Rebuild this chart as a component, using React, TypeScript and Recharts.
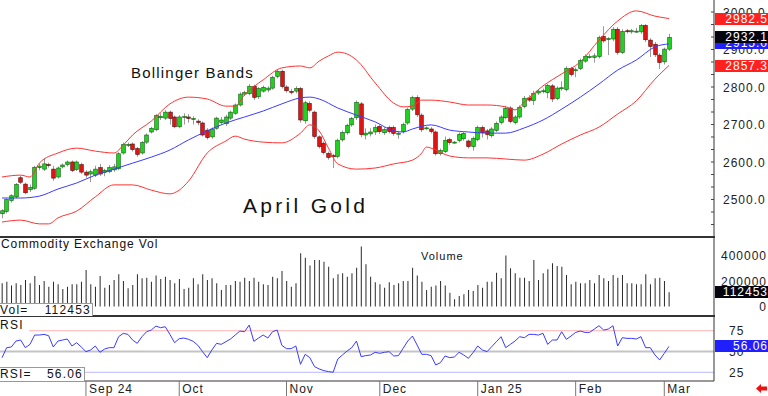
import React from 'react';
import { ComposedChart, Bar, Line, XAxis, YAxis, ReferenceLine } from 'recharts';

const FONT = "'Liberation Sans', Arial, sans-serif";

// daily OHLC, April gold (Aug 6 2024 .. Mar 4 2025)
const OPENS = [
  2462, 2468, 2497, 2507, 2558, 2541, 2526, 2530, 2585, 2581,
  2593, 2581, 2560, 2587, 2593, 2600, 2580, 2593, 2573, 2568,
  2565, 2585, 2572, 2574, 2579, 2582, 2624, 2644, 2648, 2636,
  2624, 2653, 2680, 2686, 2718, 2717, 2733, 2720, 2694, 2719,
  2720, 2714, 2709, 2704, 2685, 2667, 2690, 2705, 2702, 2717,
  2730, 2752, 2781, 2782, 2802, 2774, 2789, 2792, 2797, 2828,
  2842, 2800, 2788, 2789, 2796, 2710, 2756, 2733, 2667, 2650,
  2623, 2617, 2615, 2659, 2678, 2699, 2718, 2755, 2672, 2675,
  2680, 2695, 2678, 2692, 2692, 2674, 2681, 2704, 2741, 2772,
  2725, 2690, 2688, 2680, 2622, 2628, 2660, 2652, 2657, 2662,
  2656, 2641, 2660, 2692, 2683, 2670, 2684, 2705, 2718, 2744,
  2705, 2720, 2748, 2771, 2764, 2784, 2788, 2785, 2803, 2769,
  2796, 2793, 2850, 2844, 2849, 2869, 2880, 2879, 2881, 2935,
  2928, 2928, 2954, 2892, 2950, 2947, 2948, 2947, 2964, 2925,
  2914, 2885, 2867, 2901,
];
const HIGHS = [
  2474, 2503, 2514, 2544, 2563, 2545, 2540, 2590, 2596, 2610,
  2598, 2590, 2588, 2596, 2604, 2604, 2604, 2598, 2578, 2580,
  2590, 2595, 2582, 2592, 2595, 2626, 2652, 2652, 2652, 2640,
  2656, 2676, 2694, 2728, 2730, 2738, 2737, 2724, 2725, 2730,
  2728, 2722, 2714, 2708, 2690, 2692, 2721, 2720, 2726, 2737,
  2756, 2786, 2790, 2808, 2806, 2800, 2804, 2802, 2830, 2847,
  2846, 2805, 2795, 2802, 2800, 2763, 2762, 2737, 2671, 2655,
  2628, 2622, 2662, 2684, 2702, 2720, 2764, 2760, 2690, 2690,
  2700, 2700, 2693, 2697, 2697, 2683, 2705, 2745, 2777, 2778,
  2730, 2695, 2693, 2684, 2636, 2668, 2665, 2656, 2679, 2680,
  2660, 2668, 2697, 2697, 2688, 2693, 2708, 2725, 2750, 2749,
  2725, 2751, 2776, 2778, 2790, 2794, 2796, 2809, 2808, 2802,
  2815, 2855, 2854, 2852, 2876, 2887, 2888, 2890, 2937, 2962,
  2933, 2960, 2960, 2954, 2955, 2955, 2958, 2968, 2968, 2930,
  2920, 2890, 2905, 2942,
];
const LOWS = [
  2450, 2463, 2492, 2503, 2541, 2514, 2520, 2526, 2578, 2576,
  2585, 2550, 2556, 2583, 2588, 2573, 2576, 2568, 2558, 2546,
  2560, 2563, 2562, 2570, 2574, 2578, 2620, 2640, 2628, 2614,
  2620, 2648, 2676, 2682, 2712, 2712, 2700, 2690, 2690, 2700,
  2705, 2700, 2698, 2668, 2660, 2662, 2686, 2700, 2696, 2712,
  2726, 2748, 2776, 2778, 2765, 2768, 2785, 2786, 2793, 2823,
  2796, 2785, 2780, 2783, 2705, 2702, 2732, 2662, 2636, 2620,
  2606, 2584, 2610, 2654, 2673, 2694, 2712, 2666, 2660, 2668,
  2672, 2675, 2672, 2676, 2670, 2662, 2676, 2699, 2736, 2720,
  2680, 2686, 2676, 2617, 2617, 2624, 2646, 2649, 2652, 2657,
  2636, 2630, 2655, 2665, 2660, 2665, 2680, 2700, 2714, 2703,
  2700, 2715, 2743, 2760, 2752, 2779, 2783, 2770, 2760, 2765,
  2790, 2788, 2828, 2826, 2845, 2865, 2876, 2865, 2876, 2918,
  2885, 2922, 2886, 2888, 2943, 2942, 2944, 2942, 2920, 2880,
  2880, 2848, 2860, 2896,
];
const CLOSES = [
  2470, 2500, 2510, 2540, 2546, 2518, 2532, 2586, 2589, 2595,
  2591, 2557, 2584, 2592, 2600, 2577, 2600, 2573, 2565, 2574,
  2581, 2568, 2578, 2585, 2587, 2622, 2647, 2647, 2633, 2620,
  2652, 2672, 2690, 2724, 2722, 2733, 2716, 2694, 2720, 2721,
  2716, 2716, 2705, 2672, 2665, 2688, 2717, 2712, 2720, 2733,
  2752, 2781, 2785, 2802, 2772, 2796, 2799, 2797, 2826, 2842,
  2801, 2790, 2786, 2796, 2712, 2758, 2738, 2668, 2641, 2625,
  2612, 2614, 2658, 2679, 2698, 2716, 2759, 2673, 2677, 2680,
  2692, 2681, 2687, 2681, 2676, 2677, 2700, 2740, 2772, 2726,
  2686, 2691, 2681, 2622, 2631, 2658, 2652, 2653, 2674, 2676,
  2641, 2663, 2692, 2678, 2673, 2688, 2703, 2720, 2743, 2708,
  2720, 2746, 2770, 2765, 2783, 2789, 2790, 2804, 2768, 2797,
  2798, 2850, 2833, 2846, 2871, 2882, 2881, 2883, 2932, 2923,
  2929, 2954, 2892, 2948, 2948, 2950, 2949, 2964, 2926, 2908,
  2886, 2865, 2901, 2932.1,
];

// volume in thousands of contracts
const VOLUMES = [
  183, 196, 165, 183, 170, 209, 183, 241, 170, 202,
  157, 196, 175, 138, 157, 175, 175, 196, 289, 175,
  157, 241, 149, 170, 209, 254, 202, 144, 170, 254,
  223, 228, 196, 244, 217, 236, 209, 183, 217, 138,
  149, 223, 175, 254, 209, 223, 183, 130, 170, 170,
  202, 196, 228, 202, 228, 196, 175, 170, 236, 223,
  281, 202, 157, 183, 420, 386, 323, 368, 368, 354,
  315, 223, 254, 262, 236, 262, 307, 473, 333, 236,
  191, 175, 149, 191, 170, 183, 202, 202, 307, 244,
  196, 130, 157, 165, 202, 165, 109, 57, 83, 96,
  130, 123, 170, 149, 196, 196, 267, 223, 402, 302,
  262, 228, 228, 202, 368, 209, 262, 294, 341, 320,
  315, 249, 175, 196, 183, 183, 209, 183, 249, 223,
  202, 249, 228, 249, 183, 183, 175, 175, 254, 175,
  223, 228, 202, 112.453,
];

const RSI = [
  42.5, 54.6, 55.4, 62.6, 63.8, 54.6, 58.6, 69.8, 69.8, 70.6,
  69, 55.4, 62.6, 63.8, 65, 56.6, 60.6, 55.4, 49.8, 51.8,
  56.6, 49, 53, 54.6, 54.6, 67.8, 71.8, 70.6, 63.8, 59.8,
  67.8, 73.8, 75.8, 80.6, 78.6, 79.8, 70.6, 60.6, 65.4, 66.2,
  64.6, 62.2, 57.4, 49.8, 42.6, 51.8, 59.8, 58.6, 61.8, 65,
  69.8, 74.6, 73.8, 81.8, 62.2, 66.2, 69.8, 66.2, 73.8, 75.8,
  57.4, 53.4, 53.4, 56.6, 34.6, 46.6, 42.6, 31.8, 29, 27,
  25.8, 25, 41, 45.8, 50.6, 54.6, 62.6, 43.8, 45, 45.8,
  49, 47.8, 49, 49.8, 44.6, 45, 53.8, 62.6, 68.6, 57.8,
  46.6, 46.6, 45, 33.8, 36.6, 44.6, 42.6, 43.4, 49, 45.8,
  41.8, 48.6, 56.6, 51.8, 49.8, 55.8, 61.8, 67.8, 54.6, 58.6,
  62.6, 67.8, 66.6, 70.6, 70.6, 69.8, 71.8, 58.6, 63.8, 63.8,
  73.8, 64.6, 68.6, 73, 74.6, 73, 73, 77, 81, 75.8,
  77, 81, 56.6, 66.6, 65.8, 65.8, 65, 67.8, 54.6, 54.6,
  45.8, 39.8, 47.8, 56.06,
];

// Bollinger bands: [day index, price]
const UPPER_BAND = [
  [0, 2560], [4, 2565], [6, 2560], [8, 2597], [12, 2624], [16, 2637], [20, 2629],
  [24, 2624], [26, 2645], [28, 2672], [32, 2709], [36, 2755], [40, 2773], [44, 2768],
  [48, 2749], [50, 2749], [52, 2779], [56, 2819], [60, 2851], [64, 2856], [66, 2851],
  [68, 2869], [70, 2883], [72, 2893], [74, 2888], [76, 2872], [80, 2811], [84, 2757],
  [86, 2747], [88, 2749], [90, 2765], [92, 2765], [96, 2760], [100, 2752], [104, 2752],
  [108, 2747], [110, 2739], [112, 2760], [116, 2803], [120, 2835], [124, 2867],
  [128, 2925], [132, 2976], [136, 3003], [140, 2989], [143, 2982.5],
];
const MID_BAND = [
  [0, 2504], [4, 2504], [8, 2509], [12, 2528], [16, 2544], [20, 2565], [24, 2581],
  [28, 2597], [32, 2613], [36, 2632], [40, 2659], [44, 2683], [48, 2704], [52, 2720],
  [56, 2736], [60, 2755], [64, 2771], [66, 2773], [68, 2768], [72, 2744], [76, 2725],
  [80, 2707], [84, 2683], [86, 2680], [88, 2688], [92, 2699], [96, 2685], [100, 2680],
  [104, 2677], [108, 2677], [112, 2691], [116, 2712], [120, 2741], [124, 2773],
  [128, 2808], [132, 2845], [136, 2872], [140, 2907], [143, 2915],
];
const LOWER_BAND = [
  [0, 2440], [4, 2445], [8, 2435], [10, 2435], [12, 2451], [16, 2469], [20, 2507],
  [24, 2539], [28, 2539], [32, 2525], [36, 2515], [38, 2525], [40, 2549], [44, 2624],
  [48, 2656], [50, 2669], [52, 2661], [56, 2653], [60, 2651], [64, 2677], [66, 2699],
  [68, 2683], [70, 2637], [72, 2595], [76, 2581], [80, 2584], [84, 2595], [88, 2605],
  [90, 2624], [91, 2640], [92, 2637], [96, 2616], [100, 2611], [104, 2611], [108, 2608],
  [112, 2605], [116, 2621], [120, 2648], [124, 2672], [128, 2693], [132, 2728],
  [136, 2763], [140, 2821], [143, 2857.3],
];

const MONTH_STARTS = [18, 38, 61, 81, 102, 123, 142];
const MONTH_LABELS = ['Sep 24', 'Oct', 'Nov', 'Dec', 'Jan 25', 'Feb', 'Mar'];

const PRICE_TICKS = [2500, 2600, 2700, 2800, 2900, 3000];
const PRICE_MINOR = [2433.3, 2466.7, 2533.3, 2566.7, 2633.3, 2666.7, 2733.3, 2766.7, 2833.3, 2866.7, 2933.3, 2966.7];
const VOL_TICKS = [0, 200000, 400000];
const RSI_TICKS = [25, 50, 75];

const X_DOMAIN = [-0.43, 152.66];
const PRICE_DOMAIN = [2400, 3032];
const VOL_DOMAIN = [-75000, 549000];
const RSI_DOMAIN = [14.5, 91.5];

const UP = '#22d022';
const UP_EDGE = '#0a5a0a';
const DOWN = '#dd1515';
const DOWN_EDGE = '#5a0a0a';
const WICK = '#9a9a9a';
const BAND_RED = '#ff3333';
const BAND_BLUE = '#3b3bff';

const rows = CLOSES.map((c, i) => ({
  i,
  o: OPENS[i],
  h: HIGHS[i],
  l: LOWS[i],
  c,
  v: VOLUMES[i] * 1000,
  rsi: RSI[i],
}));

const bandRows = (pairs: number[][]) => pairs.map(([i, b]) => ({ i, b }));
const upperRows = bandRows(UPPER_BAND);
const midRows = bandRows(MID_BAND);
const lowerRows = bandRows(LOWER_BAND);

const last = rows.length - 1;
const lastOf = (pairs: number[][]) => pairs[pairs.length - 1][1];

// pixel helpers for the HTML value boxes on the right edge
const priceY = (v: number) => ((PRICE_DOMAIN[1] - v) / (PRICE_DOMAIN[1] - PRICE_DOMAIN[0])) * 237;
const volY = (v: number) => 237 + ((VOL_DOMAIN[1] - v) / (VOL_DOMAIN[1] - VOL_DOMAIN[0])) * 79;
const rsiY = (v: number) => 317 + ((RSI_DOMAIN[1] - v) / (RSI_DOMAIN[1] - RSI_DOMAIN[0])) * 64;

const Candle = (props: any) => {
  const { x, width, payload } = props;
  let { y, height } = props;
  if (!payload || height == null) return null;
  if (height < 0) {
    y += height;
    height = -height;
  }
  const { o, h, l, c } = payload;
  const k = height / (h - l || 1);
  const py = (v: number) => y + (h - v) * k;
  const cx = Math.round(x + width / 2) + 0.5;
  const up = c >= o;
  const top = py(Math.max(o, c));
  const bh = Math.max(py(Math.min(o, c)) - top, 1);
  return (
    <g>
      <line x1={cx} x2={cx} y1={y} y2={y + height} stroke={WICK} strokeWidth={1} />
      <rect x={cx - 1.8} y={top} width={3.6} height={bh} fill={up ? UP : DOWN} stroke={up ? UP_EDGE : DOWN_EDGE} strokeWidth={0.6} />
    </g>
  );
};

const textStyle = { letterSpacing: 1, fontFamily: FONT };

const PriceTick = ({ x, y, payload }: any) => {
  const v = payload.value;
  if (!PRICE_TICKS.includes(v)) {
    return <line x1={x - 3} x2={x} y1={y} y2={y} stroke="#444" />;
  }
  return (
    <g>
      <line x1={x - 3} x2={x} y1={y} y2={y} stroke="#444" />
      <text x={x + 9} y={y + 4.5} fontSize={12} fill="#222" style={textStyle}>{v.toFixed(1)}</text>
    </g>
  );
};

const VolTick = ({ x, y, payload }: any) => (
  <text x={x + 53} y={y + 4.5} fontSize={12} fill="#222" textAnchor="end" style={textStyle}>{payload.value}</text>
);

const RsiTick = ({ x, y, payload }: any) => (
  <text x={x + 15} y={y + 4.5} fontSize={12} fill="#222" style={textStyle}>{payload.value}</text>
);

const MonthTick = ({ x, y, payload }: any) => {
  const k = MONTH_STARTS.indexOf(payload.value);
  return (
    <g>
      <line x1={x} x2={x} y1={y} y2={y + 15} stroke="#777" />
      <text x={x + 3} y={y + 12} fontSize={12} fill="#222" style={textStyle}>{MONTH_LABELS[k]}</text>
    </g>
  );
};

const zeroMargin = { top: 0, right: 0, bottom: 0, left: 0 };

const ValueBox = ({ center, bg, text }: { center: number; bg: string; text: string }) => (
  <div
    style={{
      position: 'absolute', left: 715, top: Math.round(center - 6), width: 53, height: 12,
      background: bg, color: '#fff', fontSize: 12, lineHeight: '12px', textAlign: 'right',
      letterSpacing: 1, fontFamily: FONT,
    }}
  >
    {text}
  </div>
);

const Label = ({ left, top, size, spacing, text, bg }: any) => (
  <div
    style={{
      position: 'absolute', left, top, fontSize: size, lineHeight: `${size + 2}px`, letterSpacing: spacing,
      color: '#111', whiteSpace: 'pre', fontFamily: FONT, background: bg,
    }}
  >
    {text}
  </div>
);

export default function App() {
  return (
    <div style={{ position: 'relative', width: 768, height: 396, background: '#fff', overflow: 'hidden', fontFamily: FONT }}>
      <style>{'body{margin:0}'}</style>

      <div style={{ position: 'absolute', left: 0, top: 0 }}>
        <ComposedChart width={768} height={237} data={rows} margin={zeroMargin}>
          <XAxis type="number" dataKey="i" domain={X_DOMAIN} allowDataOverflow hide />
          <YAxis
            orientation="right" width={54} domain={PRICE_DOMAIN} allowDataOverflow
            ticks={[...PRICE_TICKS, ...PRICE_MINOR]} interval={0} tickSize={0} tickMargin={0}
            tickLine={false} axisLine={{ stroke: '#333' }} tick={PriceTick}
          />
          <Line data={upperRows} dataKey="b" type="monotone" stroke={BAND_RED} strokeWidth={1} dot={false} activeDot={false} isAnimationActive={false} />
          <Line data={lowerRows} dataKey="b" type="monotone" stroke={BAND_RED} strokeWidth={1} dot={false} activeDot={false} isAnimationActive={false} />
          <Line data={midRows} dataKey="b" type="monotone" stroke={BAND_BLUE} strokeWidth={1} dot={false} activeDot={false} isAnimationActive={false} />
          <Bar dataKey={(d: any) => [d.l, d.h]} barSize={4} shape={Candle} isAnimationActive={false} />
        </ComposedChart>
      </div>

      <div style={{ position: 'absolute', left: 0, top: 237 }}>
        <ComposedChart width={768} height={79} data={rows} margin={zeroMargin}>
          <XAxis type="number" dataKey="i" domain={X_DOMAIN} allowDataOverflow hide />
          <YAxis
            orientation="right" width={54} domain={VOL_DOMAIN} allowDataOverflow
            ticks={VOL_TICKS} interval={0} tickSize={0} tickMargin={0}
            tickLine={false} axisLine={{ stroke: '#333' }} tick={VolTick}
          />
          <Bar dataKey="v" fill="#2a2a2a" barSize={1} isAnimationActive={false} />
        </ComposedChart>
      </div>

      <div style={{ position: 'absolute', left: 0, top: 317 }}>
        <ComposedChart width={768} height={79} data={rows} margin={zeroMargin}>
          <XAxis
            type="number" dataKey="i" domain={X_DOMAIN} allowDataOverflow height={15}
            ticks={MONTH_STARTS} interval={0} tickSize={0} tickMargin={0} tickLine={false}
            axisLine={{ stroke: '#333' }} tick={MonthTick}
          />
          <YAxis
            orientation="right" width={54} domain={RSI_DOMAIN} allowDataOverflow
            ticks={RSI_TICKS} interval={0} tickSize={0} tickMargin={0}
            tickLine={false} axisLine={{ stroke: '#333' }} tick={RsiTick}
          />
          <ReferenceLine y={75} stroke="#ffb4b4" strokeWidth={1} />
          <ReferenceLine y={50} stroke="#c4c4c4" strokeWidth={2} />
          <ReferenceLine y={25} stroke="#b8b8ff" strokeWidth={1} />
          <Line dataKey="rsi" type="linear" stroke={BAND_BLUE} strokeWidth={1} dot={false} activeDot={false} isAnimationActive={false} />
        </ComposedChart>
      </div>

      {/* panel separators */}
      <div style={{ position: 'absolute', left: 0, top: 236, width: 715, height: 2, background: '#333' }} />
      <div style={{ position: 'absolute', left: 0, top: 315, width: 715, height: 2, background: '#333' }} />

      <Label left={131} top={64} size={15} spacing={1.2} text="Bollinger Bands" />
      <Label left={243} top={194} size={21} spacing={3.3} text="April Gold" />
      <Label left={1} top={237} size={12} spacing={0.9} text="Commodity Exchange Vol" />
      <Label left={421} top={250} size={11} spacing={1} text="Volume" />
      <Label left={0} top={318} size={12} spacing={1.3} text="RSI " bg="#fff" />

      <div style={{ position: 'absolute', left: 0, top: 303, width: 92, height: 12, background: '#fff', borderTop: '1px solid #999', borderRight: '1px solid #999', fontSize: 12, lineHeight: '13px', letterSpacing: 1.2, color: '#111' }}>
        <span style={{ position: 'absolute', left: 0 }}>Vol=</span>
        <span style={{ position: 'absolute', right: 1 }}>{Math.round(rows[last].v)}</span>
      </div>
      <div style={{ position: 'absolute', left: 0, top: 367, width: 84, height: 13, background: '#fff', borderTop: '1px solid #999', borderRight: '1px solid #999', fontSize: 12, lineHeight: '13px', letterSpacing: 1.2, color: '#111' }}>
        <span style={{ position: 'absolute', left: 0 }}>RSI=</span>
        <span style={{ position: 'absolute', right: 1 }}>{RSI[last].toFixed(2)}</span>
      </div>

      <ValueBox center={priceY(lastOf(UPPER_BAND))} bg="#ff2020" text={lastOf(UPPER_BAND).toFixed(1)} />
      <ValueBox center={priceY(lastOf(MID_BAND)) - 1} bg="#2020ff" text={lastOf(MID_BAND).toFixed(1)} />
      <ValueBox center={priceY(CLOSES[last])} bg="#05050f" text={CLOSES[last].toFixed(1)} />
      <ValueBox center={priceY(lastOf(LOWER_BAND))} bg="#ff2020" text={lastOf(LOWER_BAND).toFixed(1)} />
      <ValueBox center={volY(rows[last].v)} bg="#05050f" text={String(Math.round(rows[last].v))} />
      <ValueBox center={rsiY(RSI[last])} bg="#2020ff" text={RSI[last].toFixed(2)} />

      <svg style={{ position: 'absolute', left: 756, top: 384 }} width={11} height={9}>
        <polygon points="0,4.5 5,0 5,2.5 11,2.5 11,6.5 5,6.5 5,9" fill="#ee1111" />
      </svg>
    </div>
  );
}
